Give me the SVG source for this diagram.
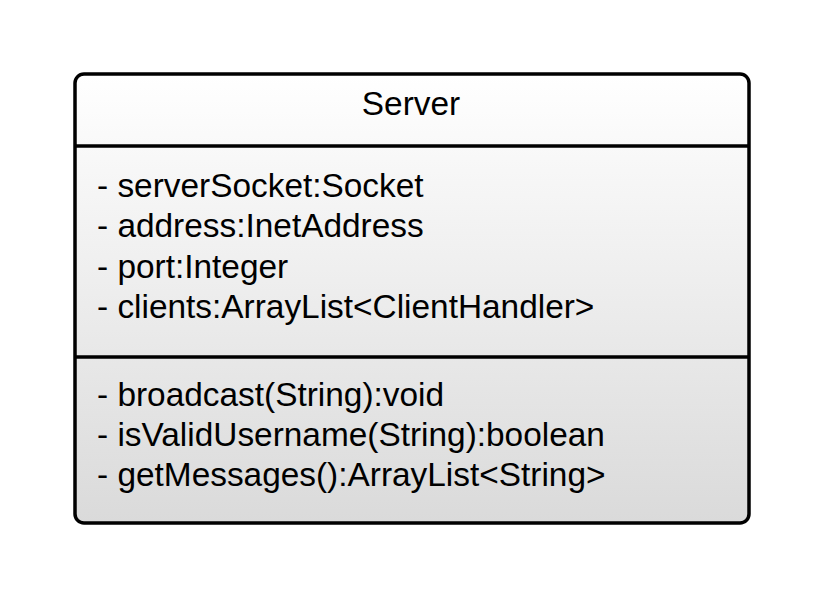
<svg xmlns="http://www.w3.org/2000/svg" width="825" height="600" viewBox="0 0 825 600">
<defs>
<linearGradient id="g" x1="0" y1="0" x2="0" y2="1">
<stop offset="0" stop-color="#ffffff"/>
<stop offset="1" stop-color="#dadada"/>
</linearGradient>
<style>
text{font-family:"Liberation Sans",Arial,sans-serif;font-size:33.4px;fill:#000}
.ln{stroke:#000;stroke-width:3.5;fill:none}
</style>
</defs>
<rect width="825" height="600" fill="#fff"/>
<g id="Server">
<rect x="75" y="74" width="674" height="449" rx="9" ry="9" fill="url(#g)" stroke="#000" stroke-width="3.5"/>
<line class="ln" x1="75" y1="146" x2="749" y2="146"/>
<line class="ln" x1="75" y1="357" x2="749" y2="357"/>
<text x="411" y="115" text-anchor="middle">Server</text>
<text x="97" y="197">- serverSocket:Socket</text>
<text x="97" y="237">- address:InetAddress</text>
<text x="97" y="278">- port:Integer</text>
<text x="97" y="318">- clients:ArrayList&lt;ClientHandler&gt;</text>
<text x="97" y="406">- broadcast(String):void</text>
<text x="97" y="446">- isValidUsername(String):boolean</text>
<text x="97" y="486">- getMessages():ArrayList&lt;String&gt;</text>
</g>
<g id="connectors"/>
</svg>
